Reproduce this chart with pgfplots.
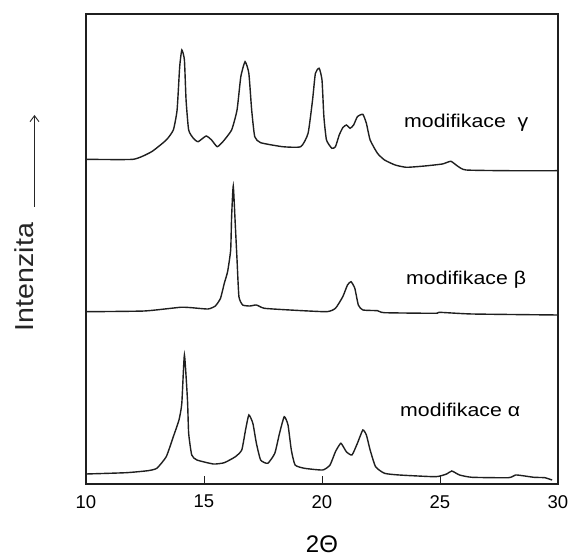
\documentclass[border=0pt]{standalone}
\usepackage{fontspec}
\setmainfont{Liberation Sans}
\usepackage{graphicx}
\usepackage{pgfplots}
\pgfplotsset{compat=1.18}
\usetikzlibrary{arrows.meta}
\begin{document}
\begin{tikzpicture}[x=1pt,y=1pt]
\path[use as bounding box] (0,0) rectangle (568,557);
\begin{axis}[at={(86pt,73pt)}, anchor=south west, scale only axis,
  width=472pt, height=470pt, xmin=10, xmax=30, ymin=0, ymax=470,
  xtick={10,15,20,25,30}, ytick=\empty, xtick pos=bottom, tick align=inside,
  major tick length=8pt,
  axis line style={line width=1.4pt, black!88},
  every tick/.style={black!88, line width=1pt},
  xticklabel style={font=\fontsize{18.5}{18.5}\selectfont, inner sep=0pt, yshift=-11pt},
  /pgf/number format/assume math mode=true, clip=false]
% gamma
\addplot[black!88, line width=1.4pt, smooth, tension=0.3] coordinates {
(10,324.7) (12.0,324.7) (12.78,332.3) (13.4,344) (13.7,354) (13.86,374) (13.97,417.3)
(14.06,434) (14.17,424) (14.24,384) (14.35,354) (14.55,345.7) (14.75,342.3) (15.09,348)
(15.32,344) (15.56,337.3) (15.8,342.3) (16.17,354) (16.4,374) (16.56,407.3) (16.74,422.3)
(16.9,410.7) (17.02,374) (17.15,347.3) (17.4,341.3) (18.33,337.3) (19.1,337.3) (19.41,350.7)
(19.6,384) (19.72,410.7) (19.88,415.7) (20.0,404) (20.08,367.3) (20.19,344) (20.42,335.7)
(20.57,337.3) (20.73,349) (20.88,356.3) (21.03,359) (21.19,355.7) (21.34,359) (21.5,367.3)
(21.73,369.7) (21.88,360.7) (22.04,344) (22.35,330.7) (22.65,324) (23.1,319) (23.58,316.7)
(24.35,318) (25.1,320) (25.46,322.7) (25.74,318) (26.1,314) (27.9,313.3) (30,313.3)};
% beta
\addplot[black!88, line width=1.4pt, smooth, tension=0.3] coordinates {
(10,172.3) (12.47,173) (14.0,176.7) (14.47,176.3) (15.17,175) (15.48,178) (15.7,185.7)
(15.86,200.7) (16.0,212.3) (16.13,234) (16.17,267.3) (16.24,298) (16.33,257.3) (16.4,224)
(16.48,187.3) (16.64,179) (16.94,178) (17.22,179) (17.56,175.7) (18.64,174) (20.19,172.3)
(20.57,175.7) (20.88,187.3) (21.08,199) (21.23,202.3) (21.39,195.7) (21.54,179) (21.73,174)
(22.35,173.3) (22.65,171.3) (24.81,170.7) (24.97,171.7) (26.36,170) (30,169)};
% alpha
\addplot[black!88, line width=1.4pt, smooth, tension=0.3] coordinates {
(10,10) (11.7,11.3) (12.62,13.3) (13.0,15.7) (13.4,27.3) (13.7,47.3) (13.94,64) (14.06,80.7)
(14.17,129) (14.3,84) (14.35,50.7) (14.48,29) (14.7,24) (15.4,20) (15.86,21.3) (16.33,27.3)
(16.6,34) (16.76,54) (16.9,69) (17.07,60.7) (17.22,40.7) (17.4,24) (17.7,20.7) (18.0,30.7)
(18.2,50.7) (18.4,67.3) (18.56,59) (18.7,34) (18.86,19) (19.26,15.7) (20.03,14) (20.34,19)
(20.57,32.3) (20.8,40.7) (21.03,32.3) (21.27,29) (21.5,40.7) (21.73,54) (21.88,49) (22.04,34)
(22.27,17.3) (22.65,10.7) (23.27,9) (24.81,7.3) (25.28,10) (25.5,13) (25.83,9) (26.36,6.7)
(27.9,6.3) (28.2,9) (28.5,8.3) (28.98,6.7) (29.44,6.3) (29.75,4)};
\end{axis}
\node[anchor=base west, inner sep=0pt, font=\fontsize{18.5}{18.5}\selectfont] at (404,429) {\scalebox{1.15}[1]{modifikace\ \ γ}};
\node[anchor=base west, inner sep=0pt, font=\fontsize{18.5}{18.5}\selectfont] at (406,272) {\scalebox{1.15}[1]{modifikace β}};
\node[anchor=base west, inner sep=0pt, font=\fontsize{18.5}{18.5}\selectfont] at (400,140) {\scalebox{1.15}[1]{modifikace α}};
\node[anchor=base, inner sep=0pt, font=\fontsize{24}{24}\selectfont] at (322,4) {2Θ};
\node[anchor=base, rotate=90, inner sep=0pt, font=\fontsize{26}{26}\selectfont, text=black!85] at (33,280) {\scalebox{1.1}[1]{Intenzita}};
\draw[black!85, line width=0.9pt, -{Straight Barb[length=6pt,width=9pt]}] (34.5,350) -- (34.5,442);
\end{tikzpicture}
\end{document}
